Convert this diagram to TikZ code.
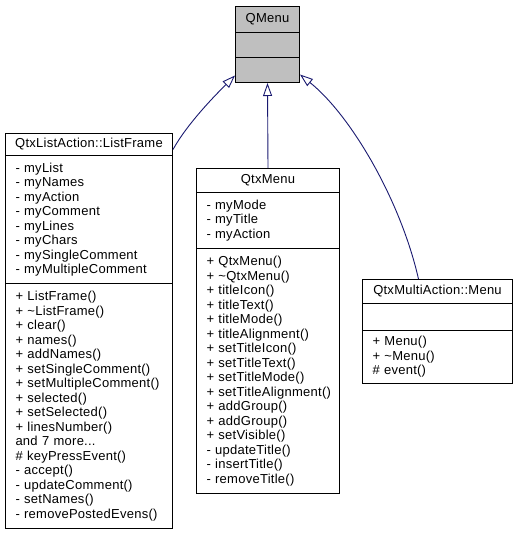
\documentclass[tikz,border=0pt]{standalone}
\usepackage{fontspec}
\setmainfont[LetterSpace=2]{Liberation Sans}
\usepackage{tikz}
\usetikzlibrary{arrows.meta}
\definecolor{midnight}{RGB}{25,25,112}
\definecolor{basegray}{RGB}{191,191,191}
\newcommand{\umlfont}{\fontsize{13}{14.5}\selectfont}
\tikzstyle{classname} = [rectangle, draw=black, line width=1pt, anchor=north west, inner sep=0pt, align=center, font=\umlfont]
\tikzstyle{classpart} = [rectangle, draw=black, line width=1pt, anchor=north west, inner xsep=4pt, inner ysep=0pt, align=left, font=\umlfont, execute at begin node={\leftskip=6pt\hyphenpenalty=10000}]
\tikzstyle{inherit} = [draw=midnight, line width=0.9pt, -{Triangle[open, length=13pt, width=9pt]}]

\begin{document}
\begin{tikzpicture}[x=1pt, y=-1pt]
    \useasboundingbox (0,0) rectangle (516,536);
    % base class
    \node [classname, fill=basegray, minimum width=64pt, minimum height=26pt] at (235,6) (qmName) {QMenu};
    \node [classname, fill=basegray, minimum width=64pt, minimum height=25pt] at (235,32) (qmAttr) {};
    \node [classname, fill=basegray, minimum width=64pt, minimum height=25pt] at (235,57) (qmOps) {};
    % QtxListAction::ListFrame
    \node [classname, minimum width=167pt, minimum height=22pt] at (5,133) (lfName) {QtxListAction::ListFrame};
    \node [classpart, text width=159pt, minimum height=128pt] at (5,155) (lfAttr) {- myList\\- myNames\\- myAction\\- myComment\\- myLines\\- myChars\\- mySingleComment\\- myMultipleComment};
    \node [classpart, text width=159pt, minimum height=245pt] at (5,283) (lfOps) {+ ListFrame()\\+ \textasciitilde ListFrame()\\+ clear()\\+ names()\\+ addNames()\\+ setSingleComment()\\+ setMultipleComment()\\+ selected()\\+ setSelected()\\+ linesNumber()\\and 7 more...\\\# keyPressEvent()\\- accept()\\- updateComment()\\- setNames()\\- removePostedEvens()};
    % QtxMenu
    \node [classname, minimum width=143pt, minimum height=24pt] at (196,168) (qxName) {QtxMenu};
    \node [classpart, text width=135pt, minimum height=56pt] at (196,192) (qxAttr) {- myMode\\- myTitle\\- myAction};
    \node [classpart, text width=135pt, minimum height=245pt] at (196,248) (qxOps) {+ QtxMenu()\\+ \textasciitilde QtxMenu()\\+ titleIcon()\\+ titleText()\\+ titleMode()\\+ titleAlignment()\\+ setTitleIcon()\\+ setTitleText()\\+ setTitleMode()\\+ setTitleAlignment()\\+ addGroup()\\+ addGroup()\\+ setVisible()\\- updateTitle()\\- insertTitle()\\- removeTitle()};
    % QtxMultiAction::Menu
    \node [classname, minimum width=150pt, minimum height=24pt] at (362,279) (maName) {QtxMultiAction::Menu};
    \node [classpart, text width=142pt, minimum height=27pt] at (362,303) (maAttr) {};
    \node [classpart, text width=142pt, minimum height=53pt] at (362,330) (maOps) {+ Menu()\\+ \textasciitilde Menu()\\\# event()};
    % generalisation
    \draw [inherit] ([yshift=-5pt]lfName.east) .. controls +(15,-27) and +(-18,18) .. ([yshift=-5.5pt]qmOps.west);
    \draw [inherit] (qxName.north) -- (qmOps.south);
    \draw [inherit] ([xshift=-19pt]maName.north) .. controls +(-18,-79) and +(51,41) .. ([yshift=-4.5pt]qmOps.east);
\end{tikzpicture}
\end{document}
